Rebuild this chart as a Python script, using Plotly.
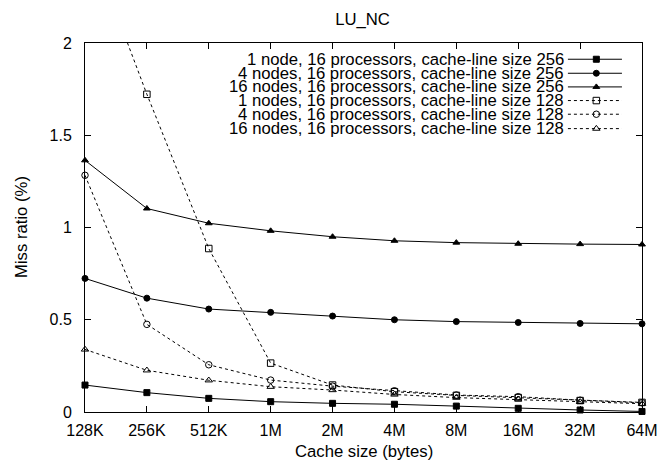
import plotly.graph_objects as go

categories = ["128K", "256K", "512K", "1M", "2M", "4M", "8M", "16M", "32M", "64M"]

s1_node1_256 = [0.146, 0.105, 0.074, 0.056, 0.047, 0.042, 0.032, 0.020, 0.011, 0.003]
s2_node4_256 = [0.724, 0.617, 0.558, 0.540, 0.520, 0.500, 0.490, 0.485, 0.480, 0.478]
s3_node16_256 = [1.364, 1.103, 1.023, 0.982, 0.950, 0.928, 0.918, 0.912, 0.910, 0.908]
s4_node1_128 = [2.61, 1.722, 0.886, 0.265, 0.146, 0.110, 0.090, 0.078, 0.062, 0.052]
s5_node4_128 = [1.283, 0.475, 0.256, 0.173, 0.140, 0.115, 0.092, 0.083, 0.064, 0.050]
s6_node16_128 = [0.339, 0.226, 0.172, 0.137, 0.119, 0.095, 0.078, 0.068, 0.055, 0.045]

series_names = [
    "1 node, 16 processors, cache-line size 256",
    "4 nodes, 16 processors, cache-line size 256",
    "16 nodes, 16 processors, cache-line size 256",
    "1 nodes, 16 processors, cache-line size 128",
    "4 nodes, 16 processors, cache-line size 128",
    "16 nodes, 16 processors, cache-line size 128",
]
series_values = [s1_node1_256, s2_node4_256, s3_node16_256, s4_node1_128, s5_node4_128, s6_node16_128]

styles = [
    dict(symbol="square", size=6, dash="solid"),
    dict(symbol="circle", size=6, dash="solid"),
    dict(symbol="triangle-up", size=6, dash="solid"),
    dict(symbol="square-open", size=6.5, dash="3px,3px"),
    dict(symbol="circle-open", size=6.5, dash="3px,3px"),
    dict(symbol="triangle-up-open", size=6.5, dash="3px,3px"),
]

FONT = "Liberation Sans, Arial, Helvetica, sans-serif"
TICK_SIZE = 16
TEXT_SIZE = 16.7

fig = go.Figure()
for name, vals, st in zip(series_names, series_values, styles):
    fig.add_trace(go.Scatter(
        x=categories, y=vals, name=name, mode="lines+markers",
        line=dict(color="black", width=1, dash=st["dash"]),
        marker=dict(symbol=st["symbol"], size=st["size"], color="black",
                    line=dict(color="black", width=1)),
        cliponaxis=False, showlegend=False,
    ))

# Custom gnuplot-style key (text right-aligned, sample on the right)
key_rows = [0.956, 0.918, 0.881, 0.844, 0.807, 0.768]
key_x0, key_xm, key_x1, key_text_x = 0.867, 0.918, 0.964, 0.861
annotations = []
for name, st, ky in zip(series_names, styles, key_rows):
    fig.add_trace(go.Scatter(
        x=[key_x0, key_x1], y=[ky, ky], mode="lines", xaxis="x2", yaxis="y2",
        line=dict(color="black", width=1, dash=st["dash"]), showlegend=False,
        hoverinfo="skip",
    ))
    fig.add_trace(go.Scatter(
        x=[key_xm], y=[ky], mode="markers", xaxis="x2", yaxis="y2",
        marker=dict(symbol=st["symbol"], size=st["size"], color="black",
                    line=dict(color="black", width=1)),
        showlegend=False, hoverinfo="skip", cliponaxis=False,
    ))
    annotations.append(dict(
        x=key_text_x, y=ky, xref="x2", yref="y2", text=name, showarrow=False,
        xanchor="right", yanchor="middle", borderpad=0,
        font=dict(family=FONT, size=TEXT_SIZE, color="black"),
    ))

annotations.append(dict(
    x=-0.114, y=0.5, xref="paper", yref="paper", text="Miss ratio (%)", textangle=-90,
    showarrow=False, xanchor="center", yanchor="middle",
    font=dict(family=FONT, size=TEXT_SIZE, color="black"),
))
annotations.append(dict(
    x=0.5, y=-0.077, xref="paper", yref="paper", text="Cache size (bytes)",
    showarrow=False, xanchor="center", yanchor="top",
    font=dict(family=FONT, size=TEXT_SIZE, color="black"),
))

fig.update_layout(
    width=658, height=467,
    margin=dict(l=84.5, r=16, t=43, b=55, autoexpand=False),
    paper_bgcolor="white", plot_bgcolor="white",
    font=dict(family=FONT, size=TICK_SIZE, color="black"),
    title=dict(text="LU_NC", x=0.551, xanchor="center", y=1 - 19 / 467, yanchor="middle",
               yref="container", font=dict(family=FONT, size=TEXT_SIZE, color="black")),
    xaxis=dict(
        type="category", categoryorder="array", categoryarray=categories,
        range=[0, len(categories) - 1], showgrid=False, zeroline=False, automargin=False,
        showline=True, linecolor="black", linewidth=1, mirror="ticks",
        ticks="inside", ticklen=6, tickwidth=1, tickcolor="black",
        ticklabelstandoff=4, tickfont=dict(family=FONT, size=TICK_SIZE, color="black"),
    ),
    yaxis=dict(
        range=[0, 2], tickvals=[0, 0.5, 1, 1.5, 2], ticktext=["0", "0.5", "1", "1.5", "2"],
        showgrid=False, zeroline=False, automargin=False,
        showline=True, linecolor="black", linewidth=1, mirror="ticks",
        ticks="inside", ticklen=6, tickwidth=1, tickcolor="black",
        ticklabelstandoff=9, tickfont=dict(family=FONT, size=TICK_SIZE, color="black"),
    ),
    xaxis2=dict(overlaying="x", range=[0, 1], visible=False, fixedrange=True, automargin=False),
    yaxis2=dict(overlaying="y", range=[0, 1], visible=False, fixedrange=True, automargin=False),
    annotations=annotations,
    showlegend=False,
)

fig.write_html("out.html", config={"displayModeBar": False},
               post_script="document.body.style.margin='0';document.body.style.overflow='hidden';")
